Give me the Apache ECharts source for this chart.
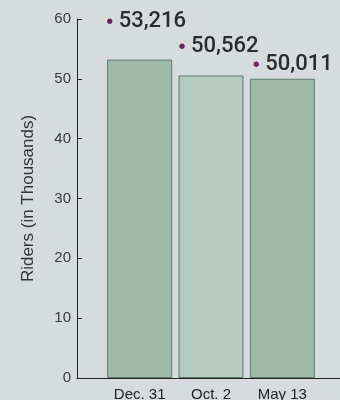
<!DOCTYPE html>
<html>
<head>
<meta charset="utf-8">
<script src="https://cdn.jsdelivr.net/npm/echarts@6/dist/echarts.min.js"></script>
<style>
html,body{margin:0;padding:0;background:#d6dbde;}
#c{width:340px;height:400px;}
</style>
</head>
<body>
<div id="c"></div>
<script>
// Data
const categories = ['Dec. 31', 'Oct. 2', 'May 13'];
const riders = [53216, 50562, 50011];
const yTicks = { min: 0, max: 60, interval: 10 };

// Styling (not data)
const barColors = ['#9fb9aa', '#b4c9bf', '#9fb9aa'];
const labelOffsets = [[-1, -38], [0, -29], [3, -14]];

const chart = echarts.init(document.getElementById('c'), null, { renderer: 'canvas' });

const seriesData = riders.map((v, i) => ({
  value: v / 1000,
  itemStyle: { color: barColors[i] },
  label: { position: labelOffsets[i] }
}));

chart.setOption({
  backgroundColor: '#d6dbde',
  animation: false,
  grid: [
    { left: 104, right: 22, top: 19, bottom: 22, outerBoundsMode: 'none', containLabel: false },
    { left: 77, right: 0, top: 19, bottom: 22, outerBoundsMode: 'none', containLabel: false }
  ],
  xAxis: [
    {
      type: 'category', gridIndex: 0, data: categories,
      axisLine: { show: false }, axisTick: { show: false },
      axisLabel: { color: '#222', fontSize: 15, fontFamily: 'Liberation Sans', margin: 9 }
    },
    {
      type: 'value', gridIndex: 1, min: 0, max: 1,
      axisLine: { show: true, lineStyle: { color: '#222', width: 1 } },
      axisTick: { show: false }, axisLabel: { show: false }, splitLine: { show: false }
    }
  ],
  yAxis: [
    {
      type: 'value', gridIndex: 0, min: yTicks.min, max: yTicks.max, interval: yTicks.interval,
      offset: 27,
      name: 'Riders (in Thousands)', nameLocation: 'middle', nameGap: 40,
      nameTextStyle: { color: '#333', fontSize: 17, fontFamily: 'Liberation Sans' },
      axisLine: { show: true, lineStyle: { color: '#222', width: 1 } },
      axisTick: { show: true, inside: true, length: 5, lineStyle: { color: '#222' } },
      axisLabel: { color: '#3a3a3a', fontSize: 15, fontFamily: 'Liberation Sans', margin: 6 },
      splitLine: { show: false }
    },
    { type: 'value', gridIndex: 1, show: false, min: 0, max: 1 }
  ],
  series: [{
    type: 'bar', xAxisIndex: 0, yAxisIndex: 0,
    barWidth: 65,
    data: seriesData,
    itemStyle: { borderColor: '#5d7b6a', borderWidth: 1 },
    label: {
      show: true, align: 'left', verticalAlign: 'middle',
      formatter: p => '{d|•}{n| ' + riders[p.dataIndex].toLocaleString('en-US') + '}',
      rich: {
        d: { color: '#6b2561', fontSize: 20, fontFamily: 'Liberation Sans', verticalAlign: 'bottom' },
        n: { color: '#2b2b2b', fontSize: 22, fontWeight: 500, fontFamily: 'Roboto' }
      }
    }
  }]
});
</script>
</body>
</html>
